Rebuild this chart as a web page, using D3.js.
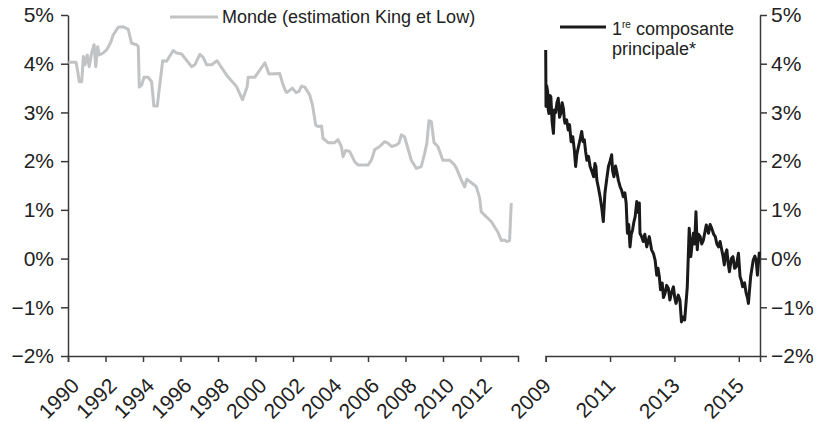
<!DOCTYPE html>
<html>
<head>
<meta charset="utf-8">
<script src="https://cdn.jsdelivr.net/npm/d3@7"></script>
<style>
  body { margin: 0; background: #fff; }
  svg { font-family: "Liberation Sans", Arial, sans-serif; }
  .axis path, .axis line { stroke: #3a3a3a; stroke-width: 1.5; }
  .axis text { fill: #222; font-size: 21px; }
</style>
</head>
<body>
<script>
// Monde (estimation King et Low) - années décimales et taux (%)
const worldYears = [1990.02, 1990.43, 1990.52, 1990.60, 1990.73, 1990.82, 1990.91, 1991.03, 1991.13, 1991.26,
  1991.39, 1991.48, 1991.58, 1991.67, 1991.88, 1992.09, 1992.29, 1992.41, 1992.68, 1992.91,
  1993.21, 1993.39, 1993.66, 1993.75, 1993.80, 1993.93, 1994.05, 1994.28, 1994.46, 1994.58,
  1994.76, 1994.86, 1995.05, 1995.26, 1995.61, 1995.79, 1996.06, 1996.59, 1996.77, 1997.03,
  1997.21, 1997.39, 1997.66, 1997.95, 1998.45, 1998.99, 1999.31, 1999.55, 1999.61, 1999.96,
  2000.50, 2000.72, 2001.29, 2001.44, 2001.61, 2001.68, 2001.97, 2002.15, 2002.32, 2002.45,
  2002.63, 2002.89, 2003.04, 2003.21, 2003.34, 2003.52, 2003.60, 2003.87, 2004.22, 2004.40,
  2004.58, 2004.67, 2004.81, 2005.02, 2005.29, 2005.47, 2006.00, 2006.18, 2006.36, 2006.62,
  2006.89, 2007.06, 2007.25, 2007.51, 2007.65, 2007.78, 2007.95, 2008.31, 2008.58, 2008.84,
  2009.02, 2009.14, 2009.25, 2009.38, 2009.52, 2009.73, 2009.99, 2010.35, 2010.62, 2010.72,
  2010.97, 2011.15, 2011.27, 2011.77, 2011.95, 2012.04, 2012.57, 2012.93, 2013.11, 2013.28,
  2013.40, 2013.55, 2013.64];
const worldRates = [4.03, 4.03, 3.84, 3.63, 3.63, 4.15, 3.98, 4.18, 3.94, 4.22,
  4.39, 3.94, 4.35, 4.18, 4.22, 4.30, 4.45, 4.59, 4.75, 4.76,
  4.71, 4.42, 4.39, 4.35, 3.52, 3.56, 3.72, 3.72, 3.63, 3.13,
  3.13, 3.46, 4.06, 4.05, 4.27, 4.22, 4.20, 3.94, 3.98, 4.19,
  4.13, 3.98, 3.98, 4.06, 3.77, 3.53, 3.26, 3.52, 3.72, 3.72,
  4.02, 3.79, 3.80, 3.60, 3.43, 3.41, 3.50, 3.41, 3.43, 3.54,
  3.52, 3.36, 3.15, 2.74, 2.71, 2.72, 2.47, 2.38, 2.38, 2.44,
  2.30, 2.09, 2.22, 2.20, 1.99, 1.92, 1.92, 2.02, 2.24, 2.30,
  2.40, 2.37, 2.30, 2.33, 2.37, 2.54, 2.50, 2.02, 1.85, 1.89,
  2.16, 2.37, 2.83, 2.81, 2.38, 2.30, 2.02, 2.02, 1.92, 1.85,
  1.62, 1.47, 1.63, 1.48, 1.25, 0.96, 0.76, 0.54, 0.37, 0.38,
  0.35, 0.37, 1.14];

// 1re composante principale (série quotidienne, lue point par point)
const pcYears = [2009.00, 2009.01, 2009.03, 2009.06, 2009.08, 2009.10, 2009.13, 2009.16, 2009.20, 2009.24,
  2009.27, 2009.31, 2009.35, 2009.39, 2009.43, 2009.47, 2009.51, 2009.55, 2009.58, 2009.60,
  2009.65, 2009.70, 2009.74, 2009.79, 2009.84, 2009.89, 2009.93, 2009.97, 2010.02, 2010.07,
  2010.12, 2010.16, 2010.20, 2010.24, 2010.28, 2010.33, 2010.38, 2010.43, 2010.49, 2010.53,
  2010.56, 2010.59, 2010.64, 2010.69, 2010.74, 2010.79, 2010.84, 2010.90, 2010.95, 2011.00,
  2011.05, 2011.08, 2011.12, 2011.17, 2011.21, 2011.26, 2011.31, 2011.36, 2011.41, 2011.46,
  2011.50, 2011.54, 2011.58, 2011.62, 2011.66, 2011.70, 2011.74, 2011.78, 2011.83, 2011.87,
  2011.91, 2011.93, 2011.98, 2012.03, 2012.08, 2012.14, 2012.18, 2012.22, 2012.26, 2012.29,
  2012.35, 2012.40, 2012.45, 2012.49, 2012.53, 2012.57, 2012.62, 2012.66, 2012.71, 2012.76,
  2012.81, 2012.86, 2012.91, 2012.97, 2013.01, 2013.05, 2013.12, 2013.17, 2013.22, 2013.27,
  2013.32, 2013.40, 2013.46, 2013.51, 2013.55, 2013.59, 2013.63, 2013.67, 2013.71, 2013.75,
  2013.80, 2013.85, 2013.90, 2013.95, 2013.99, 2014.06, 2014.11, 2014.16, 2014.22, 2014.27,
  2014.32, 2014.37, 2014.42, 2014.47, 2014.51, 2014.55, 2014.59, 2014.63, 2014.67, 2014.71,
  2014.77, 2014.82, 2014.87, 2014.92, 2014.99, 2015.04, 2015.08, 2015.12, 2015.18, 2015.23,
  2015.27, 2015.30, 2015.37, 2015.41, 2015.45, 2015.50, 2015.54, 2015.58, 2015.64];
const pcRates = [4.28, 3.12, 3.55, 3.43, 3.05, 2.98, 3.35, 3.32, 2.80, 2.57,
  3.05, 3.00, 3.20, 3.29, 2.90, 2.98, 3.20, 3.08, 2.85, 2.78,
  2.85, 2.64, 2.75, 2.40, 2.50, 2.23, 1.89, 2.15, 2.30, 2.45,
  2.61, 2.40, 2.44, 2.20, 2.02, 2.10, 1.89, 1.80, 1.68, 1.95,
  1.89, 1.61, 1.45, 1.27, 1.05, 0.76, 1.34, 1.65, 1.89, 2.00,
  2.13, 1.80, 1.68, 1.90, 1.78, 1.60, 1.48, 1.40, 1.27, 1.35,
  1.14, 0.52, 0.70, 0.24, 0.50, 0.59, 0.75, 0.86, 1.17, 0.95,
  1.14, 0.52, 0.45, 0.35, 0.50, 0.24, 0.35, 0.45, 0.30, 0.18,
  0.10, -0.03, -0.34, -0.20, -0.37, -0.64, -0.50, -0.80, -0.71, -0.55,
  -0.61, -0.85, -0.70, -0.58, -0.80, -0.92, -0.75, -0.85, -1.30, -1.20,
  -1.26, -0.58, 0.62, 0.04, 0.30, 0.52, 0.30, 0.96, 0.18, 0.50,
  0.45, 0.30, 0.38, 0.55, 0.69, 0.52, 0.70, 0.62, 0.50, 0.45,
  0.30, 0.24, 0.35, 0.18, 0.05, -0.13, 0.10, 0.18, -0.10, -0.27,
  0.00, 0.04, -0.20, -0.17, 0.11, -0.37, -0.45, -0.58, -0.50, -0.71,
  -0.80, -0.92, -0.37, -0.20, -0.03, 0.05, -0.03, -0.34, 0.14];

const yTicks = [-2, -1, 0, 1, 2, 3, 4, 5];
const leftTicks = [1990, 1992, 1994, 1996, 1998, 2000, 2002, 2004, 2006, 2008, 2010, 2012];
const rightTicks = [2009, 2011, 2013, 2015];

const width = 820, height = 422;
const svg = d3.select('body').append('svg')
  .attr('width', width)
  .attr('height', height);

const y = d3.scaleLinear().domain([-2, 5]).range([356, 15]);
const xLeft = d3.scaleLinear().domain([1990, 2014]).range([68, 518]);
const xRight = d3.scaleLinear().domain([2009, 2015.66]).range([545.7, 760]);

const fmt = d => (d < 0 ? '\u2212' + Math.abs(d) : d) + '%';

// axe Y gauche
svg.append('g')
  .attr('class', 'axis')
  .attr('transform', 'translate(68,0)')
  .call(d3.axisLeft(y).tickValues(yTicks).tickFormat(fmt).tickSize(7).tickSizeOuter(0).tickPadding(7));

// axe Y droit
svg.append('g')
  .attr('class', 'axis')
  .attr('transform', 'translate(760,0)')
  .call(d3.axisRight(y).tickValues(yTicks).tickFormat(fmt).tickSize(7).tickSizeOuter(0).tickPadding(4));

// axes X
function xAxis(scale, ticks, shift) {
  const g = svg.append('g')
    .attr('class', 'axis')
    .attr('transform', 'translate(0,356)')
    .call(d3.axisBottom(scale).tickValues(ticks).tickFormat(d3.format('d')).tickSize(6).tickSizeOuter(6));
  g.selectAll('text')
    .attr('x', 0).attr('y', 0).attr('dy', 0)
    .attr('text-anchor', 'end')
    .attr('transform', `translate(${shift},31) rotate(-45)`);
}
xAxis(xLeft, leftTicks, 12);
xAxis(xRight, rightTicks, 6);
svg.selectAll('.axis .domain').attr('fill', 'none');

// courbes
const world = worldYears.map((d, i) => [d, worldRates[i]]);
const pc = pcYears.map((d, i) => [d, pcRates[i]]);

svg.append('path')
  .datum(world)
  .attr('fill', 'none')
  .attr('stroke', '#c2c3c5')
  .attr('stroke-width', 3)
  .attr('stroke-linejoin', 'round')
  .attr('d', d3.line().x(d => xLeft(d[0])).y(d => y(d[1])));

svg.append('path')
  .datum(pc)
  .attr('fill', 'none')
  .attr('stroke', '#1a1a1a')
  .attr('stroke-width', 3)
  .attr('stroke-linejoin', 'round')
  .attr('d', d3.line().x(d => xRight(d[0])).y(d => y(d[1])));

// légendes
svg.append('line')
  .attr('x1', 170).attr('x2', 218).attr('y1', 17).attr('y2', 17)
  .attr('stroke', '#c2c3c5').attr('stroke-width', 3);
svg.append('text')
  .attr('x', 222).attr('y', 23)
  .attr('font-size', 18).attr('fill', '#222')
  .text('Monde (estimation King et Low)');

svg.append('line')
  .attr('x1', 560).attr('x2', 606).attr('y1', 27).attr('y2', 27)
  .attr('stroke', '#1a1a1a').attr('stroke-width', 3);
const leg = svg.append('text')
  .attr('x', 612).attr('y', 35)
  .attr('font-size', 18).attr('fill', '#222');
leg.append('tspan').text('1');
leg.append('tspan').attr('font-size', 10).attr('dy', -7).text('re');
leg.append('tspan').attr('dy', 7).text(' composante');
svg.append('text')
  .attr('x', 612).attr('y', 55)
  .attr('font-size', 18).attr('fill', '#222')
  .text('principale*');
</script>
</body>
</html>
